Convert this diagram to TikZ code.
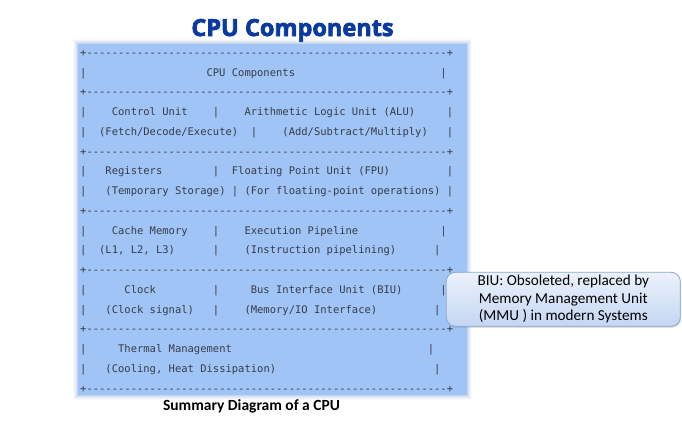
\documentclass[tikz,border=0pt]{standalone}
\usepackage{fontspec}
\setmonofont{DejaVu Sans Mono}
\newfontfamily\calib{Carlito}
\newfontfamily\titlefont{Open Sans}
\usetikzlibrary{shadows}
\definecolor{boxblue}{RGB}{160,196,246}
\definecolor{monogrey}{RGB}{55,60,72}
\definecolor{titleblue}{RGB}{10,58,160}
\definecolor{calltop}{RGB}{236,242,252}
\definecolor{callbot}{RGB}{196,214,242}
\definecolor{callline}{RGB}{140,165,205}
\newcommand\heavy[1]{\special{pdf:literal direct 1 j 0.7 w 2 Tr}#1\special{pdf:literal direct 0 Tr 0.4 w}}
\tikzset{
  mono/.style={anchor=base west, inner sep=0pt, text=monogrey,
    font=\ttfamily\fontsize{10.5}{12}\selectfont},
  callout/.style={draw=callline, line width=0.8pt, rounded corners=9pt,
    top color=calltop, bottom color=callbot, minimum width=234pt,
    minimum height=54pt, align=center, inner sep=2pt,
    font=\calib\fontsize{15.2}{17.4}\selectfont,
    drop shadow={opacity=0.25, shadow xshift=1pt, shadow yshift=-1.5pt}},
}
\newcommand\seg[4]{\node[mono] (#1) at ({80+#2*6.32},{56.25+19.75*#3}) {#4};}
\newcommand\dashrow{+---------------------------------------------------------+}
\begin{document}
\begin{tikzpicture}[x=1pt,y=-1pt]
\useasboundingbox (0,0) rectangle (682,424);
% soft glow around the blue panel
\foreach \d/\o in {5/0.06,4/0.09,3/0.13,2/0.18,1/0.3}{
  \fill[boxblue!80!gray, opacity=\o] (78-\d,44-\d) rectangle (467+\d,395+\d);
}
\fill[boxblue] (78,44) rectangle (467,395);
% title
\node[anchor=base, inner sep=0pt, text=titleblue,
  font=\titlefont\bfseries\fontsize{23.5}{28}\selectfont] (title) at (292.5,36) {\heavy{CPU Components}};
% rows
\seg{d0}{0}{0}{\dashrow}
\seg{r1a}{0}{1}{|}\seg{r1b}{20}{1}{CPU Components}\seg{r1c}{57}{1}{|}
\seg{d2}{0}{2}{\dashrow}
\seg{r3a}{0}{3}{|}\seg{r3b}{5}{3}{Control Unit}\seg{r3c}{21}{3}{|}\seg{r3d}{26}{3}{Arithmetic Logic Unit (ALU)}\seg{r3e}{58}{3}{|}
\seg{r4a}{0}{4}{|}\seg{r4b}{3}{4}{(Fetch/Decode/Execute)}\seg{r4c}{27}{4}{|}\seg{r4d}{32}{4}{(Add/Subtract/Multiply)}\seg{r4e}{58}{4}{|}
\seg{d5}{0}{5}{\dashrow}
\seg{r6a}{0}{6}{|}\seg{r6b}{4}{6}{Registers}\seg{r6c}{21}{6}{|}\seg{r6d}{24}{6}{Floating Point Unit (FPU)}\seg{r6e}{58}{6}{|}
\seg{r7a}{0}{7}{|}\seg{r7b}{4}{7}{(Temporary Storage)}\seg{r7c}{24}{7}{|}\seg{r7d}{26}{7}{(For floating-point operations)}\seg{r7e}{58}{7}{|}
\seg{d8}{0}{8}{\dashrow}
\seg{r9a}{0}{9}{|}\seg{r9b}{5}{9}{Cache Memory}\seg{r9c}{21}{9}{|}\seg{r9d}{26}{9}{Execution Pipeline}\seg{r9e}{57}{9}{|}
\seg{r10a}{0}{10}{|}\seg{r10b}{3}{10}{(L1, L2, L3)}\seg{r10c}{21}{10}{|}\seg{r10d}{26}{10}{(Instruction pipelining)}\seg{r10e}{56}{10}{|}
\seg{d11}{0}{11}{\dashrow}
\seg{r12a}{0}{12}{|}\seg{r12b}{7}{12}{Clock}\seg{r12c}{21}{12}{|}\seg{r12d}{27}{12}{Bus Interface Unit (BIU)}\seg{r12e}{57}{12}{|}
\seg{r13a}{0}{13}{|}\seg{r13b}{4}{13}{(Clock signal)}\seg{r13c}{21}{13}{|}\seg{r13d}{26}{13}{(Memory/IO Interface)}\seg{r13e}{56}{13}{|}
\seg{d14}{0}{14}{\dashrow}
\seg{r15a}{0}{15}{|}\seg{r15b}{6}{15}{Thermal Management}\seg{r15c}{55}{15}{|}
\seg{r16a}{0}{16}{|}\seg{r16b}{4}{16}{(Cooling, Heat Dissipation)}\seg{r16c}{56}{16}{|}
\seg{d17}{0}{17}{\dashrow}
% caption
\node[anchor=base, inner sep=0pt, font=\calib\bfseries\fontsize{15.5}{18}\selectfont] (caption) at (251.5,410.7) {Summary Diagram of a CPU};
% callout
\node[callout] (biu) at (563.3,299.3) {BIU: Obsoleted, replaced by\\Memory Management Unit\\(MMU ) in modern Systems};
\end{tikzpicture}
\end{document}
